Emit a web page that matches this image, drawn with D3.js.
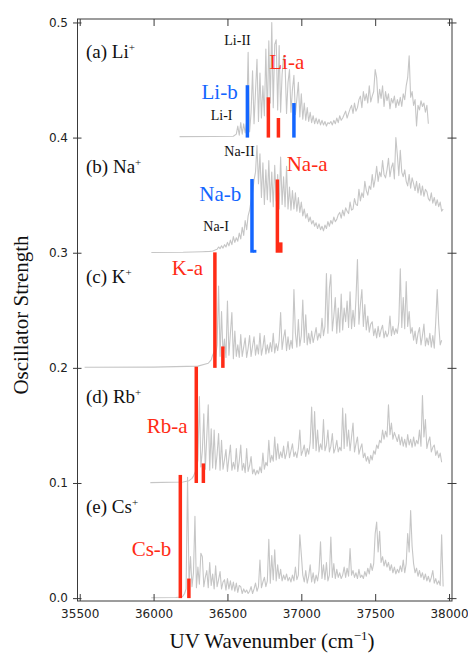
<!DOCTYPE html>
<html>
<head>
<meta charset="utf-8">
<script src="https://cdn.jsdelivr.net/npm/d3@7"></script>
<style>
  body { margin: 0; background: #fff; }
  svg { display: block; }
</style>
</head>
<body>
<svg id="chart" width="468" height="655"></svg>
<script>
// ---------- data ----------
const xTicks = [35500, 36000, 36500, 37000, 37500, 38000];
const yTicks = [0.0, 0.1, 0.2, 0.3, 0.4, 0.5];

const panelTags = ["(a)", "(b)", "(c)", "(d)", "(e)"];
const ionNames = ["Li", "Na", "K", "Rb", "Cs"];
const panelOffsets = [0.4, 0.3, 0.2, 0.1, 0.0];

// spectra on a 10 cm-1 grid, strengths in units of 1e-3 above each panel's offset
const gridStep = 10;

// flat pre-onset part of each spectrum: [wavenumber, strength*1e3]
const liLead = [[36176, 0.8], [36400, 0.9], [36540, 1.2]];
const naLead = [[35985, 0.2], [36200, 0.4], [36330, 0.9], [36380, 1.2]];
const kLead  = [[35533, 0.5], [36000, 0.6], [36300, 1.5], [36370, 4], [36390, 7]];
const rbLead = [[35978, 0.3], [36200, 0.8], [36240, 2], [36260, 4]];
const csLead = [[35984, 0.3], [36150, 0.6], [36190, 1]];

const liGridStart = 36560;
const liValues = [
  3, 10, 2, 13, 3, 12, 4, 14, 74, 5,
  22, 58, 12, 40, 68, 14, 56, 17, 45, 19,
  77, 18, 84, 30, 100, 26, 81, 85, 24, 80,
  22, 55, 71, 64, 21, 48, 59, 22, 42, 54,
  20, 34, 48, 18, 38, 16, 30, 15, 26, 14,
  22, 13, 19, 12, 17, 12, 16, 11, 15, 11,
  14, 10, 13, 12, 14, 11, 15, 12, 17, 13,
  19, 15, 17, 20, 23, 17, 21, 25, 28, 21,
  30, 23, 26, 33, 36, 26, 40, 32, 38, 30,
  45, 31, 36, 40, 59, 52, 30, 42, 34, 45,
  27, 40, 32, 38, 25, 34, 30, 36, 26, 33,
  28, 35, 27, 38, 33, 45, 52, 71, 35, 40,
  28, 33, 10, 28, 24, 32, 27, 30, 22, 28,
  12
];

const naGridStart = 36400;
const naValues = [
  1.5, 2, 2.5, 3, 5, 3.5, 6, 4, 7, 5,
  9, 6, 11, 7, 14, 9, 13, 10, 17, 12,
  22, 15, 28, 20, 32, 37, 45, 52, 63, 70,
  93, 60, 86, 48, 78, 42, 72, 46, 80, 44,
  70, 40, 76, 45, 68, 38, 83, 42, 66, 40,
  75, 38, 57, 37, 54, 38, 52, 36, 48, 35,
  44, 32, 38, 30, 34, 27, 31, 25, 28, 23,
  26, 21, 25, 20, 23, 19, 24, 21, 27, 23,
  28, 25, 31, 27, 29, 33, 35, 30, 37, 32,
  39, 36, 34, 44, 37, 38, 47, 42, 41, 55,
  45, 52, 48, 62, 54, 50, 58, 55, 68, 57,
  64, 75, 62, 70, 66, 80, 68, 65, 72, 82,
  66, 74, 78, 64, 100, 85, 67, 89, 70, 66,
  72, 62, 58, 68, 56, 65, 60, 54, 62, 52,
  60, 50, 58, 49, 55, 53, 47, 45, 52, 43,
  48, 41, 46, 40, 44, 36,
  38
];

const kGridStart = 36400;
const kValues = [
  11, 14, 9, 20, 71, 10, 49, 12, 25, 9,
  58, 11, 30, 48, 8, 32, 10, 20, 9, 29,
  10, 18, 26, 9, 17, 28, 10, 19, 27, 11,
  20, 12, 30, 11, 18, 28, 12, 20, 13, 22,
  14, 30, 13, 21, 15, 24, 48, 16, 26, 33,
  15, 27, 16, 24, 17, 68, 30, 18, 42, 19,
  28, 59, 22, 46, 20, 30, 21, 32, 22, 28,
  35, 24, 30, 26, 43, 28, 36, 82, 30, 69,
  81, 32, 45, 61, 30, 52, 31, 64, 33, 52,
  40, 58, 35, 66, 34, 50, 36, 60, 94, 38,
  55, 68, 36, 55, 33, 45, 31, 38, 40, 28,
  34, 26, 36, 27, 33, 37, 26, 32, 27, 30,
  45, 28, 36, 29, 34, 30, 40, 86, 35, 61,
  34, 75, 36, 49, 30, 35, 24, 32, 21, 30,
  35, 20, 28, 38, 19, 26, 20, 30, 18, 28,
  17, 40, 68, 38, 20, 24
];

const rbGridStart = 36270;
const rbValues = [
  6, 9, 12, 20, 75, 14, 28, 60, 12, 40,
  68, 11, 47, 13, 46, 12, 25, 43, 11, 37,
  12, 20, 29, 10, 22, 33, 11, 18, 12, 30,
  10, 19, 33, 11, 17, 9, 30, 10, 15, 23,
  8, 12, 7, 11, 8, 14, 9, 26, 12, 18,
  15, 37, 18, 24, 19, 40, 20, 34, 21, 27,
  22, 32, 21, 26, 36, 22, 28, 34, 23, 27,
  22, 30, 46, 24, 28, 33, 23, 30, 25, 35,
  66, 30, 62, 28, 46, 27, 34, 29, 55, 28,
  33, 46, 27, 32, 43, 26, 30, 37, 27, 31,
  28, 65, 30, 60, 32, 46, 28, 40, 52, 27,
  34, 40, 25, 30, 34, 22, 26, 19, 23, 17,
  24, 20, 28, 25, 33, 30, 37, 35, 46, 38,
  45, 40, 68, 42, 52, 38, 44, 40, 36, 42,
  33, 40, 32, 38, 31, 42, 33, 38, 31, 40,
  32, 37, 34, 46, 32, 76, 40, 55, 30, 36,
  40, 27, 31, 33, 24, 28, 22, 26, 18
];

const csGridStart = 36200;
const csValues = [
  2, 4, 8, 105, 12, 36, 10, 22, 71, 9,
  27, 12, 39, 36, 10, 18, 24, 9, 31, 11,
  21, 8, 28, 10, 16, 23, 8, 14, 16, 7,
  17, 8, 15, 7, 14, 6, 13, 5, 11, 10,
  4, 8, 5, 7, 4, 6, 10, 4, 8, 13,
  6, 10, 33, 9, 14, 18, 10, 15, 51, 13,
  37, 16, 42, 15, 29, 17, 25, 15, 20, 16,
  21, 15, 18, 14, 20, 15, 27, 16, 20, 55,
  38, 20, 14, 24, 13, 19, 29, 14, 22, 13,
  20, 15, 24, 49, 17, 29, 16, 31, 15, 20,
  53, 18, 30, 17, 25, 18, 22, 17, 20, 27,
  18, 26, 19, 43, 20, 24, 18, 22, 17, 25,
  18, 20, 17, 23, 19, 26, 21, 30, 24, 30,
  56, 66, 40, 58, 31, 36, 28, 33, 27, 31,
  24, 29, 22, 27, 21, 25, 22, 28, 23, 33,
  22, 30, 56, 40, 76, 45, 30, 22, 26, 19,
  24, 18, 22, 16, 21, 15, 19, 14, 18, 24,
  13, 17, 12, 15, 11, 55, 10
];

// calculated transitions: [wavenumber, strength*1e3, assignment]
const liSticks = [[36635, 45.5, "Li-b"], [36777, 35, "Li-a"], [36845, 17, "Li-a"], [36950, 30, "Li-b"]];
const naSticks = [[36666, 64, "Na-b"], [36684, 2.5, "Na-b"], [36838, 63.6, "Na-a"], [36861, 9, "Na-a"]];
const kSticks  = [[36415, 100.3, "K-a"], [36469, 18.6, "K-a"]];
const rbSticks = [[36289, 101, "Rb-a"], [36337, 17, "Rb-a"]];
const csSticks = [[36181, 107, "Cs-b"], [36239, 17, "Cs-b"]];

// ---------- assemble panels ----------
function buildSpectrum(lead, start, values) {
  return lead.concat(values.map((v, i) => [start + i * gridStep, v]));
}
const spectra = [
  buildSpectrum(liLead, liGridStart, liValues),
  buildSpectrum(naLead, naGridStart, naValues),
  buildSpectrum(kLead, kGridStart, kValues),
  buildSpectrum(rbLead, rbGridStart, rbValues),
  buildSpectrum(csLead, csGridStart, csValues)
];
const sticks = [liSticks, naSticks, kSticks, rbSticks, csSticks];

// ---------- drawing ----------
const svg = d3.select("#chart");
const serif = "'Liberation Serif', 'Times New Roman', serif";
const sans = "'DejaVu Sans', Verdana, sans-serif";
const axisColor = "#3a3a3a";
const traceColor = "#c6c6c6";
const red = "#ff2b16";
const blue = "#1466ff";
const stickColor = { "Li-b": blue, "Na-b": blue };

const x = d3.scaleLinear().domain([35485, 38020]).range([77.5, 452]);
const y = d3.scaleLinear().domain([-0.0025, 0.503]).range([601, 19]);

// spectra
const line = d3.line().x(d => x(d[0]));
spectra.forEach((pts, i) => {
  const off = panelOffsets[i];
  svg.append("path")
    .datum(pts)
    .attr("fill", "none")
    .attr("stroke", traceColor)
    .attr("stroke-width", 1.1)
    .attr("stroke-linejoin", "round")
    .attr("d", line.y(d => y(off + d[1] / 1000)));
});

// transition sticks
const stickW = 3.5;
sticks.forEach((set, i) => {
  const off = panelOffsets[i];
  svg.append("g").selectAll("rect")
    .data(set)
    .join("rect")
    .attr("x", d => x(d[0]) - stickW / 2)
    .attr("width", stickW)
    .attr("y", d => y(off + d[1] / 1000))
    .attr("height", d => y(off) - y(off + d[1] / 1000))
    .attr("fill", d => stickColor[d[2]] || red);
});

// frame
svg.append("rect")
  .attr("x", x.range()[0]).attr("y", y.range()[1])
  .attr("width", x.range()[1] - x.range()[0])
  .attr("height", y.range()[0] - y.range()[1])
  .attr("fill", "none").attr("stroke", axisColor).attr("stroke-width", 1);

function styleAxis(g) {
  g.select(".domain").remove();
  g.selectAll(".tick line").attr("stroke", axisColor);
  g.selectAll(".tick text").attr("fill", "#222").attr("font-family", sans).attr("font-size", 12);
}

const y0 = y.range()[0], y1 = y.range()[1];
const x0 = x.range()[0], x1 = x.range()[1];

svg.append("g").attr("transform", `translate(0,${y0})`)
  .call(d3.axisBottom(x).tickValues(xTicks).tickSizeInner(-7).tickSizeOuter(0).tickPadding(8.5).tickFormat(d3.format("d")))
  .call(styleAxis);
svg.append("g").attr("transform", `translate(0,${y1})`)
  .call(d3.axisTop(x).tickValues(xTicks).tickSizeInner(-7).tickSizeOuter(0).tickFormat(""))
  .call(styleAxis);
svg.append("g").attr("transform", `translate(${x0},0)`)
  .call(d3.axisLeft(y).tickValues(yTicks).tickSizeInner(4.5).tickSizeOuter(0).tickPadding(5).tickFormat(d3.format(".1f")))
  .call(styleAxis);
svg.append("g").attr("transform", `translate(${x0},0)`)
  .call(d3.axisRight(y).tickValues(yTicks).tickSizeInner(4).tickSizeOuter(0).tickFormat(""))
  .call(styleAxis);
svg.append("g").attr("transform", `translate(${x1},0)`)
  .call(d3.axisRight(y).tickValues(yTicks).tickSizeInner(4.5).tickSizeOuter(0).tickFormat(""))
  .call(styleAxis);
svg.append("g").attr("transform", `translate(${x1},0)`)
  .call(d3.axisLeft(y).tickValues(yTicks).tickSizeInner(4.5).tickSizeOuter(0).tickFormat(""))
  .call(styleAxis);

// axis titles
svg.append("text")
  .attr("transform", "translate(28,315) rotate(-90)")
  .attr("text-anchor", "middle")
  .attr("font-family", serif).attr("font-size", 21).attr("fill", "#111")
  .text("Oscillator Strength");

const xt = svg.append("text")
  .attr("x", 272).attr("y", 648)
  .attr("text-anchor", "middle")
  .attr("font-family", serif).attr("font-size", 21).attr("fill", "#111");
xt.append("tspan").text("UV Wavenumber (cm");
xt.append("tspan").attr("font-size", 13).attr("dy", -8).text("\u22121");
xt.append("tspan").attr("dy", 8).text(")");

// panel labels
const panelLabelY = [58, 172.5, 283, 403, 513];
ionNames.forEach((ion, i) => {
  const t = svg.append("text")
    .attr("x", 86).attr("y", panelLabelY[i])
    .attr("font-family", serif).attr("font-size", 19).attr("fill", "#111");
  t.append("tspan").text(`${panelTags[i]} ${ion}`);
  t.append("tspan").attr("font-size", 11).attr("dy", -7).text("+");
});

// band annotations
const notes = [
  { text: "Li-II", x: 224.3, y: 45,    size: 14, color: "#111" },
  { text: "Li-I",  x: 210.7, y: 120,   size: 14, color: "#111" },
  { text: "Li-b",  x: 201.5, y: 99,    size: 21, color: blue },
  { text: "Li-a",  x: 269.3, y: 69.3,  size: 21, color: red },
  { text: "Na-II", x: 224.3, y: 156,   size: 14, color: "#111" },
  { text: "Na-I",  x: 203.3, y: 231,   size: 14, color: "#111" },
  { text: "Na-b",  x: 199.3, y: 201,   size: 21, color: blue },
  { text: "Na-a",  x: 286.7, y: 170.7, size: 21, color: red },
  { text: "K-a",   x: 171.7, y: 275,   size: 21, color: red },
  { text: "Rb-a",  x: 146.7, y: 432.7, size: 21, color: red },
  { text: "Cs-b",  x: 131.7, y: 556,   size: 21, color: red }
];
svg.append("g").selectAll("text")
  .data(notes)
  .join("text")
  .attr("x", d => d.x).attr("y", d => d.y)
  .attr("font-family", serif)
  .attr("font-size", d => d.size)
  .attr("fill", d => d.color)
  .text(d => d.text);
</script>
</body>
</html>
